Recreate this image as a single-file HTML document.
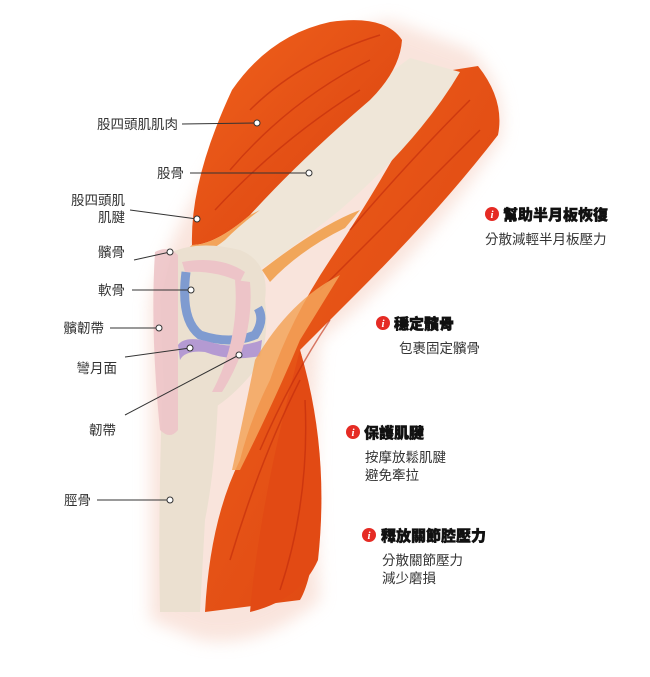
<!DOCTYPE html>
<html><head><meta charset="utf-8"><style>
html,body{margin:0;padding:0;background:#fff;}
svg{display:block}
text{font-family:"Liberation Sans","Noto Sans CJK TC",sans-serif;fill:#333;}
.b{font-weight:900;fill:#111;font-size:15px;stroke:#111;stroke-width:0.5}
.s{font-size:13.5px;fill:#333}
.l{font-size:13.5px;fill:#333}
</style></head><body>
<svg width="650" height="677" viewBox="0 0 650 677" xmlns="http://www.w3.org/2000/svg">
<defs>
<filter id="bl"><feGaussianBlur stdDeviation="8"/></filter>
<linearGradient id="mu" x1="0" y1="0" x2="1" y2="1"><stop offset="0" stop-color="#f0621c"/><stop offset="1" stop-color="#d9400f"/></linearGradient>
</defs>
<path d="M150,620 L150,300 Q170,230 230,140 Q290,40 390,20 L470,50 Q510,90 500,140 Q420,260 320,340 Q310,420 320,600 Q260,650 200,640 Z" fill="#f6d3c6" filter="url(#bl)" opacity="0.6"/>
<path d="M440,72 L478,66 Q505,100 498,135 Q440,210 360,290 Q320,330 300,350 Q320,420 318,520 Q312,580 300,600 L205,612 Q210,520 240,460 Q250,420 270,380 Q290,320 330,260 Q390,170 440,72 Z" fill="url(#mu)"/>
<path d="M300,350 Q330,450 318,560 Q300,600 250,612 Q260,500 300,350Z" fill="#e24a14"/>
<path d="M410,58 L460,72 Q420,140 340,210 Q290,250 262,268 L200,262 Q250,190 330,120 Q380,80 410,58 Z" fill="#efe6d8"/>
<path d="M232,90 Q270,35 330,22 Q385,14 402,40 Q400,70 370,100 Q300,160 250,215 Q215,245 192,245 Q190,180 232,90 Z" fill="url(#mu)"/>
<g stroke="#c02a0c" stroke-width="1.5" fill="none" opacity="0.6">
<path d="M250,110 Q300,60 380,35"/><path d="M230,170 Q290,100 370,60"/><path d="M215,210 Q280,140 360,90"/>
<path d="M350,230 Q410,160 470,100"/><path d="M320,290 Q390,220 480,130"/><path d="M260,450 Q290,380 330,320"/>
<path d="M230,560 Q260,460 300,380"/><path d="M280,590 Q310,500 305,400"/>
</g>
<path d="M250,215 Q215,245 192,245 L180,255 Q200,260 225,240 Q240,225 260,210Z" fill="#f3a45a"/>
<path d="M262,270 Q320,225 360,210 L345,228 Q300,250 270,282 Z" fill="#f1a65a"/>
<path d="M172,252 Q200,240 240,250 Q270,262 265,300 Q270,345 255,370 Q230,400 210,410 L165,420 L160,300 Z" fill="#ebe0d0"/>
<path d="M186,272 Q180,320 200,335 Q230,345 255,335 Q265,320 258,308" fill="none" stroke="#7f9bd0" stroke-width="9"/>
<path d="M178,345 Q185,335 210,342 Q235,350 262,340 L260,356 Q230,362 205,352 Q185,350 180,360 Z" fill="#b49ad2"/>
<path d="M162,400 L218,400 Q215,470 205,520 L200,612 L160,612 Q158,520 162,400 Z" fill="#ebe0d0"/>
<path d="M155,252 Q168,245 178,255 L178,430 Q170,440 160,430 Q150,330 155,252Z" fill="#edc4c8" opacity="0.9"/>
<path d="M182,262 Q220,255 245,272 L240,282 Q215,270 185,272Z" fill="#edc4c8"/>
<path d="M235,280 L250,282 Q255,340 222,392 L212,392 Q240,340 235,280Z" fill="#edc4c8"/>
<path d="M255,360 Q290,300 340,275 L300,340 Q275,400 240,470 L232,470 Q245,410 255,360Z" fill="#f3a45a" opacity="0.85"/>
<g stroke="#333" stroke-width="1" fill="#fff">
<line x1="182" y1="124" x2="257" y2="123"/><line x1="190" y1="173" x2="309" y2="173"/>
<line x1="130" y1="210" x2="197" y2="219"/><line x1="134" y1="260" x2="170" y2="252"/>
<line x1="132" y1="290" x2="191" y2="290"/><line x1="110" y1="328" x2="159" y2="328"/>
<line x1="125" y1="357" x2="190" y2="348"/><line x1="125" y1="415" x2="239" y2="355"/>
<line x1="97" y1="500" x2="170" y2="500"/>
<circle cx="257" cy="123" r="3"/><circle cx="309" cy="173" r="3"/><circle cx="197" cy="219" r="3"/>
<circle cx="170" cy="252" r="3"/><circle cx="191" cy="290" r="3"/><circle cx="159" cy="328" r="3"/>
<circle cx="190" cy="348" r="3"/><circle cx="239" cy="355" r="3"/><circle cx="170" cy="500" r="3"/>
</g>
<g class="l" text-anchor="end">
<text x="178" y="129" class="l">股四頭肌肌肉</text>
<text x="184" y="178" class="l">股骨</text>
<text x="125" y="205" class="l">股四頭肌</text>
<text x="125" y="222" class="l">肌腱</text>
<text x="125" y="257" class="l">髕骨</text>
<text x="125" y="295" class="l">軟骨</text>
<text x="104" y="333" class="l">髕韌帶</text>
<text x="117" y="373" class="l">彎月面</text>
<text x="116" y="435" class="l">韌帶</text>
<text x="91" y="505" class="l">脛骨</text>
</g>
<g fill="#e52b24">
<circle cx="492" cy="214" r="7"/><circle cx="383" cy="323" r="7"/><circle cx="353" cy="432" r="7"/><circle cx="369" cy="535" r="7"/>
</g>
<g font-style="italic" font-weight="bold" font-size="11" text-anchor="middle">
<text x="492" y="218" style="fill:#fff;font-family:'Liberation Serif',serif">i</text><text x="383" y="327" style="fill:#fff;font-family:'Liberation Serif',serif">i</text><text x="353" y="436" style="fill:#fff;font-family:'Liberation Serif',serif">i</text><text x="369" y="539" style="fill:#fff;font-family:'Liberation Serif',serif">i</text>
</g>
<text x="503" y="220" class="b">幫助半月板恢復</text>
<text x="485" y="244" class="s">分散減輕半月板壓力</text>
<text x="394" y="329" class="b">穩定髕骨</text>
<text x="399" y="353" class="s">包裹固定髕骨</text>
<text x="364" y="438" class="b">保護肌腱</text>
<text x="365" y="462" class="s">按摩放鬆肌腱</text>
<text x="365" y="480" class="s">避免牽拉</text>
<text x="381" y="541" class="b">釋放關節腔壓力</text>
<text x="382" y="565" class="s">分散關節壓力</text>
<text x="382" y="583" class="s">減少磨損</text>
</svg>
</body></html>
